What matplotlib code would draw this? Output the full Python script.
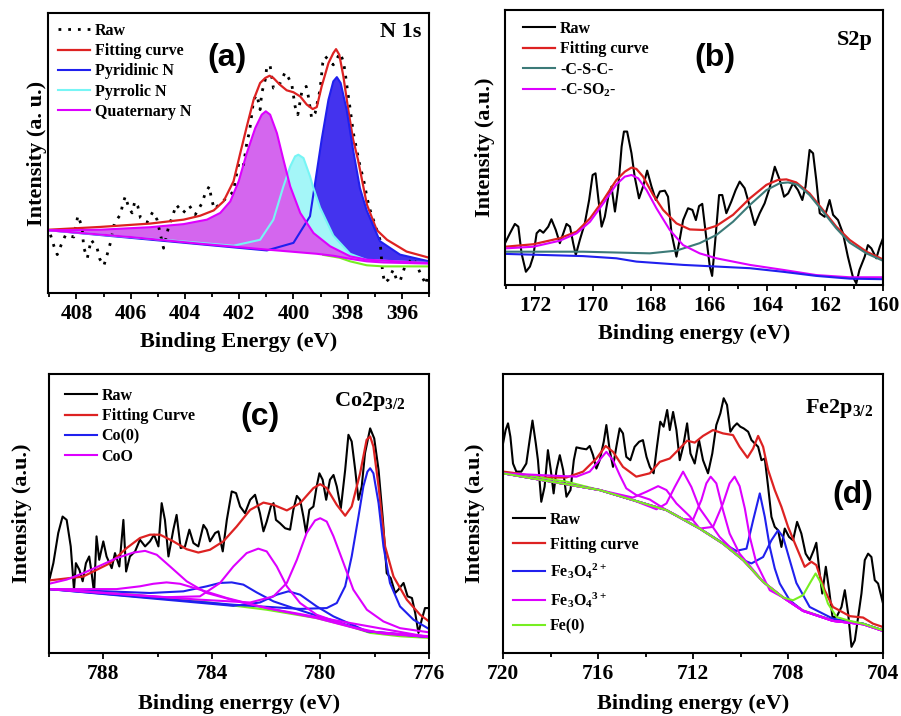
import matplotlib
matplotlib.use("Agg")
import matplotlib.pyplot as plt
from matplotlib.ticker import MultipleLocator

plt.rcParams['font.family'] = 'Liberation Serif'
plt.rcParams['font.weight'] = 'bold'
plt.rcParams['axes.labelweight'] = 'bold'
plt.rcParams['mathtext.fontset'] = 'custom'
plt.rcParams['mathtext.rm'] = 'Liberation Serif:bold'
plt.rcParams['mathtext.it'] = 'Liberation Serif:bold'
plt.rcParams['mathtext.bf'] = 'Liberation Serif:bold'

RED = '#DD2222'
BLUE = '#2020EE'
MAG = '#DD00FF'
GREEN = '#77EE22'
TEAL = '#3C7A78'
CYAN = '#77F5F5'

# ---------------- (a) N 1s ----------------
a_raw = [(408.96,20.8),(408.83,16.7),(408.71,13.7),(408.56,17.3),(408.4,20.8),(408.1,20),(407.95,27.6),
         (407.8,23.8),(407.73,16.1),(407.6,12.5),(407.46,19),(407.24,16),(407.14,12.1),(406.99,9.8),
         (406.87,13.7),(406.75,17.9),(406.6,25),(406.38,28),(406.29,31.9),(406.2,34.5),(406.07,30.4),
         (405.95,28.6),(405.85,32.7),(405.74,31),(405.64,26.8),(405.4,25.2),(405.19,28.9),(405.03,26.2),
         (404.79,16),(404.6,23.8),(404.44,28),(404.32,31.5),(404.07,28.6),(403.84,31.2),(403.62,28),
         (403.37,32.1),(403.25,35.7),(403.1,38.1),(403.03,33.9),(402.92,30),(402.2,36.3),(402.15,39.9),
         (402.0,47),(401.84,45.8),(401.72,53.6),(401.62,57.7),(401.53,64.3),(401.47,69),(401.35,70.8),
         (401.23,65.5),(401.17,71.4),(401.04,76.2),(400.98,81),(400.86,81.2),(400.74,73.2),(400.55,73.8),
         (400.31,78.8),(400.18,76.8),(400.06,74.4),(399.94,66.7),(399.84,63.7),(399.69,72),(399.53,73.8),
         (399.45,70.2),(399.33,62.5),(399.2,64.3),(399.02,72.6),(398.92,82.1),(398.83,84.5),(398.71,83.3),
         (398.53,81.5),(398.28,85.7),(398.16,82.7),(398.1,79.2),(398.01,72.6),(397.94,67.9),(397.79,57.1),
         (397.57,46.4),(397.48,42.9),(397.36,38.1),(397.3,34.5),(397.18,29.8),(396.93,22.6),(396.81,19),
         (396.71,7.1),(396.63,3.6),(396.5,4.8),(396.32,8.3),(396.2,4.8),(396.07,4.2),(395.89,9.5),
         (395.58,12.5),(395.27,6),(395.11,3),(395.05,7.1)]
a_fit = [(409.02,22.6),(407.12,23.6),(405.28,24.8),(404.05,26.2),(403.44,27.6),(402.94,29.5),(402.58,32.7),
         (402.21,39.9),(401.96,50),(401.72,59.5),(401.47,69),(401.23,75),(401.04,76.8),(400.88,77.6),
         (400.74,76.8),(400.5,74.4),(400.25,72.4),(400.0,71.7),(399.75,70.2),(399.51,67.3),(399.29,65.7),
         (399.14,66.4),(398.96,73.8),(398.71,82.1),(398.53,85.7),(398.43,87.1),(398.31,85.1),(398.16,77.4),
         (397.98,65.5),(397.8,54.8),(397.62,47.6),(397.29,31.5),(396.93,22.5),(396.55,19.0),(395.83,14.8),
         (395.0,12.6)]
a_bg = [(409.02,22.4),(405.89,19.9),(403.44,17.6),(400.98,15.5),(399.14,14.0),(398.53,13.3),(397.91,12.2),
        (397.3,11.3),(396.69,10.9),(395.0,10.5)]
a_green = [(398.9,13.6),(398.3,12.6),(397.91,11.3),(397.3,9.9),(396.69,9.5),(395.0,9.5)]
a_pyridinic = [(409.02,22.4),(400.98,15.2),(400.0,17.9),(399.39,27.4),(399.2,39.4),(398.96,54.8),(398.71,69),
               (398.53,75.6),(398.4,77.1),(398.26,75),(398.04,65.5),(397.79,50.5),(397.55,37.5),(397.3,29.5),
               (396.81,18.5),(396.07,13.7),(395.0,11.3)]
a_pyrrolic = [(409.02,22.4),(402.21,16.9),(401.23,19.0),(400.74,26.2),(400.37,38.1),(400.12,45.2),(399.94,48.8),
              (399.82,49.4),(399.63,48.2),(399.39,41.7),(399.28,38.0),(399.02,30.5),(398.53,20.5),(397.91,14.0),
              (397.3,11.8),(395.0,10.7)]
a_quaternary = [(409.02,22.4),(407.12,22.6),(405.28,23.5),(404.05,24.6),(403.19,26.2),(402.7,28.6),(402.33,32.7),
                (402.02,39.9),(401.72,50),(401.41,58.9),(401.17,63.7),(401.02,64.9),(400.86,63.7),(400.61,57.1),
                (400.37,47.6),(400.12,38.1),(399.75,28.6),(399.26,21.4),(398.65,16.7),(397.91,13.1),(397.3,11.9),
                (395.0,10.7)]

# ---------------- (b) S 2p ----------------
b_raw = [(173.03,15.2),(172.86,18.8),(172.69,22.2),(172.57,21.2),(172.46,11.5),(172.31,4.8),(172.17,6.7),
         (172.06,10.3),(171.94,18.8),(171.83,20),(171.71,19),(171.54,21.2),(171.43,23.9),(171.28,20),
         (171.14,15.2),(171.02,18.8),(170.91,22.2),(170.79,21.2),(170.68,15.2),(170.59,10.9),(170.45,16.4),
         (170.28,22.4),(170.13,30.9),(170.01,40),(169.91,40.6),(169.82,32.1),(169.7,21.2),(169.59,24.8),
         (169.47,32.1),(169.36,35.8),(169.24,26.7),(169.13,35.2),(169.01,50.3),(168.93,55.8),(168.82,55.8),
         (168.67,47.9),(168.56,39.4),(168.41,31.5),(168.27,35.8),(168.13,41.6),(167.98,35.8),(167.83,30.9),
         (167.69,34),(167.52,34.3),(167.41,32.1),(167.29,18.8),(167.12,10.3),(167.01,16.4),(166.89,23.6),
         (166.72,27.9),(166.57,27.3),(166.45,23.6),(166.34,28.7),(166.23,29.5),(166.11,18.8),(165.97,6.7),
         (165.89,3.3),(165.78,16.4),(165.65,32.7),(165.54,32.7),(165.4,26.1),(165.23,30.3),(165.08,34.5),
         (164.94,37.6),(164.77,35.2),(164.59,28.5),(164.42,21.8),(164.25,26.1),(164.08,29.7),(163.91,35.2),
         (163.73,43),(163.56,38.2),(163.41,32.1),(163.27,33.3),(163.1,37),(162.93,34.5),(162.78,30.9),
         (162.67,35.8),(162.53,49.1),(162.41,47.9),(162.3,38.2),(162.18,26.1),(162.01,24.8),(161.84,30.9),
         (161.72,25.5),(161.55,23.6),(161.38,18.8),(161.21,10.3),(161.04,3),(160.92,0.6),(160.81,5.5),
         (160.63,10.3),(160.52,14.5),(160.4,13.3),(160.23,9.7),(160.11,13.9),(160.0,17)]
b_fit = [(173.03,13.9),(172.06,14.8),(171.14,17),(170.56,19.4),(170.1,24.2),(169.64,30.9),(169.19,38.2),
         (168.9,41.2),(168.67,42.7),(168.5,42.2),(168.27,39.4),(167.92,32.7),(167.58,27.3),(167.12,22.4),
         (166.66,20.2),(166.2,20),(165.74,21.5),(165.17,25.5),(164.59,31.5),(164.02,36.4),(163.62,38.2),
         (163.33,38.4),(162.99,37.3),(162.53,33.3),(162.07,27.3),(161.61,21.2),(161.15,16.4),(160.57,12.1),
         (160.0,9.3)]
b_csc = [(173.03,12.1),(170.34,12.1),(168.04,11.5),(167.12,12.5),(166.32,15.2),(165.74,18.2),(165.17,23),
         (164.59,29.1),(164.02,34.5),(163.56,37),(163.27,37.3),(162.93,36.4),(162.53,32.7),(162.07,26.7),
         (161.61,20.6),(161.15,15.4),(160.57,11.5),(160.0,8.8)]
b_cso2 = [(173.03,13.3),(172.06,13.9),(171.14,16.1),(170.56,18.8),(170.1,23),(169.64,29.7),(169.19,36.6),
          (168.9,39.4),(168.67,40),(168.44,38.8),(168.15,34.5),(167.81,27.9),(167.35,20),(166.89,14.5),
          (166.32,11.5),(165.74,9.7),(164.59,7.3),(163.45,5.5),(162.3,3.6),(161.15,2.8),(160.0,2.8)]
b_bg = [(173.03,11.3),(170.34,10.5),(169.19,9.7),(168.5,8.5),(166.89,7.3),(164.59,6.1),(163.45,4.8),
        (162.3,3.3),(161.15,2.3),(160.0,2.1)]

# ---------------- (c) Co 2p3/2 ----------------
c_raw = [(790.0,25.7),(789.84,32.2),(789.66,43),(789.5,48.9),(789.35,47.7),(789.2,38.2),(789.08,22.7),
         (789.01,32.2),(788.88,29.8),(788.76,25.7),(788.64,32.2),(788.52,34.6),(788.43,28.6),(788.34,21.5),
         (788.25,41.8),(788.15,33.4),(788.0,40),(787.88,34.6),(787.69,30.4),(787.57,35.8),(787.41,31),
         (787.26,47.7),(787.16,29.2),(787.02,34.6),(786.83,36.4),(786.65,40.6),(786.46,38.2),(786.28,40),
         (786.13,42.4),(785.97,38.2),(785.85,53.7),(785.73,47.7),(785.6,34.6),(785.42,44.2),(785.3,49.5),
         (785.15,37.6),(784.99,38.2),(784.83,44.2),(784.68,39.4),(784.5,38.2),(784.31,45.9),(784.19,44.2),
         (784.07,40),(783.88,43),(783.76,43.6),(783.6,36.4),(783.45,47.7),(783.27,57.9),(783.11,57.3),
         (782.96,52.5),(782.78,50.1),(782.59,54.9),(782.41,56.7),(782.23,50.1),(782.1,43.6),(781.98,47.1),
         (781.83,52.5),(781.73,53.7),(781.64,47.7),(781.49,46.5),(781.3,44.7),(781.12,44.2),(781.0,51.3),
         (780.87,56.3),(780.75,54.9),(780.63,48.9),(780.53,43),(780.41,51.3),(780.26,52.5),(780.14,59.7),
         (780.04,64.4),(779.92,62.1),(779.79,54.9),(779.65,62.1),(779.52,63.8),(779.4,59.7),(779.25,51.9),
         (779.09,65.6),(778.97,78.2),(778.85,75.8),(778.72,65.6),(778.6,54.9),(778.48,59.7),(778.36,71.6),
         (778.17,80.5),(778.02,76.9),(777.86,65.6),(777.7,47.7),(777.56,28.6),(777.41,26.8),(777.25,21.5),
         (777.13,22.7),(776.94,25.1),(776.79,20.3),(776.63,19.7),(776.51,14.3),(776.39,7.2),(776.27,11.9),
         (776.15,16.1),(776.0,16.1)]
c_fit = [(790.0,26),(788.74,27.4),(787.75,32.2),(787.14,37.6),(786.65,41.2),(786.28,42.4),(785.91,42.4),
         (785.42,40),(784.93,37.2),(784.5,36),(784.07,37),(783.58,40),(783.09,45.3),(782.59,51.3),(782.1,53.9),
         (781.73,53.1),(781.24,51.1),(780.75,53.7),(780.26,59.1),(780.01,60.5),(779.77,59.1),(779.4,53.1),
         (779.09,49.2),(778.85,52.5),(778.54,64.4),(778.3,76.4),(778.17,77.6),(778.05,74),(777.86,59.7),
         (777.62,38.2),(777.31,27.4),(776.82,19.1),(776.33,13.7),(776.0,11.3)]
c_bg = [(790.0,22.9),(786.89,20.9),(784.44,18.5),(781.98,15.5),(780.14,12.5),(778.91,9.5),(778.17,7.2),
        (777.07,6.0),(776.0,5.4)]
c_co0 = [
    [(790.0,22.9),(783.21,17.3),(780.75,15.8),(779.77,16.1),(779.4,17.9),(779.09,23.9),(778.85,34.6),
     (778.6,48.9),(778.42,59.7),(778.27,65.0),(778.17,66.2),(778.05,64.4),(777.86,53.7),(777.68,38.2),
     (777.44,25.1),(777.07,16.7),(776.57,11.9),(776.0,8.6)],
    [(790.0,22.9),(783.21,16.9),(782.23,18.1),(781.61,20.9),(781.18,22.1),(780.75,20.9),(780.14,16.7),
     (779.52,13.1),(778.29,7.8),(776.0,5.7)],
    [(790.0,22.9),(786.28,21.5),(785.05,22.1),(784.19,23.9),(783.7,25.1),(783.27,25.3),(782.84,24.5),
     (782.35,21.7),(781.73,18.5),(781.0,16.1),(780.14,13.4),(778.29,7.8),(776.0,5.7)],
]
c_coo = [
    [(790.0,22.9),(784.44,19.1),(782.59,18.1),(781.73,20.3),(781.24,25.1),(780.87,33.4),(780.51,43.0),
     (780.2,47.5),(780.01,48.3),(779.77,47.1),(779.52,41.8),(779.15,32.2),(778.79,22.7),(778.29,15.5),
     (777.68,11.3),(777.07,8.9),(776.0,7.4)],
    [(790.0,22.9),(785.67,20.0),(784.44,20.3),(783.7,25.1),(783.21,31.0),(782.72,35.8),(782.29,37.4),
     (781.98,36.4),(781.61,31.0),(781.24,23.9),(780.75,17.9),(780.14,13.7),(778.91,9.5),(777.68,6.9),
     (776.0,5.7)],
    [(790.0,24.8),(789.35,26.3),(788.74,28.6),(788.12,31.3),(787.51,34.0),(786.89,36.0),(786.46,36.6),
     (786.03,35.2),(785.54,31.0),(784.93,25.7),(784.19,21.5),(783.21,18.9),(781.98,16.1),(780.14,12.5),
     (778.29,7.8),(776.0,6.0)],
    [(790.0,22.9),(787.51,22.9),(786.65,23.9),(786.16,24.8),(785.67,25.3),(785.17,24.8),(784.44,22.7),
     (783.45,19.7),(781.98,16.1),(776.0,5.7)],
]

# ---------------- (d) Fe 2p3/2 ----------------
d_raw = [(720.0,75.1),(719.89,79.9),(719.79,82.3),(719.69,77.5),(719.58,67.9),(719.44,65),(719.23,65),
         (719.02,67.9),(718.88,76.3),(718.76,83.3),(718.62,75.1),(718.53,69.1),(718.39,54.2),(718.25,59.6),
         (718.11,72.7),(717.99,65.6),(717.87,57.2),(717.75,65.6),(717.61,70.9),(717.47,65.6),(717.33,56),
         (717.16,58.4),(717.02,69.1),(716.91,73.7),(716.7,73.3),(716.49,73),(716.35,74.2),(716.21,70.9),
         (716.07,66.1),(715.93,69.1),(715.76,75.7),(715.65,81.7),(715.51,72.7),(715.37,66.7),(715.23,73.9),
         (715.09,80.5),(714.95,78.7),(714.81,70.3),(714.64,69.1),(714.46,73.9),(714.27,75.7),(714.11,76.3),
         (713.96,70.3),(713.82,66.7),(713.66,64.4),(713.52,73.9),(713.38,82.9),(713.24,81.1),(713.09,87.1),
         (712.98,79.9),(712.84,86.4),(712.7,79.9),(712.56,69.1),(712.42,73.9),(712.25,82.3),(712.11,71.5),
         (711.93,67.9),(711.75,76.3),(711.58,69.1),(711.37,64.4),(711.19,71.5),(711.02,81.7),(710.85,85.9),
         (710.71,91.3),(710.57,88.9),(710.43,79.3),(710.29,81.1),(710.15,82.3),(710.01,81.1),(709.87,80.5),
         (709.68,79.3),(709.54,76.3),(709.4,75.1),(709.26,73.9),(709.12,69.1),(708.98,69.7),(708.84,59.6),
         (708.7,48.8),(708.56,45.2),(708.42,44),(708.28,38),(708.14,44.6),(707.96,41.6),(707.79,40.4),
         (707.62,47),(707.44,42.8),(707.26,35.6),(707.09,33.3),(706.92,36.8),(706.81,39.5),(706.67,28.5),
         (706.56,21.3),(706.41,30.9),(706.27,22.5),(706.13,12.9),(705.96,12.9),(705.75,16.5),(705.61,22.5),
         (705.47,14.1),(705.33,2.2),(705.19,4.5),(705.05,12.9),(704.91,21.3),(704.77,33.3),(704.63,35.6),
         (704.49,34.4),(704.35,26.1),(704.21,24.9),(704.0,17.7)]
d_fit = [(720.0,65),(719.44,64.4),(718.46,62.9),(717.33,62.9),(716.63,65),(716.07,69.7),(715.68,74.2),
         (715.37,72.1),(714.95,66.7),(714.39,63.2),(713.82,64.4),(713.4,68.5),(712.98,69.7),(712.56,73.3),
         (712.25,76.1),(711.93,75.4),(711.58,77.8),(711.16,79.9),(710.74,78.7),(710.32,78.1),(710.04,73.9),
         (709.71,70),(709.47,73.3),(709.26,77.8),(709.05,73.9),(708.84,65.6),(708.56,58.4),(708.28,52.4),
         (708.0,45.2),(707.65,38),(707.3,30.9),(707.02,32.7),(706.81,31.5),(706.46,22.5),(706.11,16.5),
         (705.4,13.2),(704.84,12.7),(704.42,10.5),(704.0,9.3)]
d_bg = [(720.0,64.4),(718.74,63.2),(717.33,61.4),(715.93,58.4),(714.53,54.8),(713.12,51.2),(711.72,44.6),
        (710.74,39.2),(709.89,33.3),(709.05,25.5),(708.21,19.9),(707.37,15.3),(706.11,11.7),(704.84,10.5),
        (704.0,8.1)]
d_fe2 = [
    [(720.0,64.4),(715.93,58.4),(714.53,54.8),(713.12,51.2),(711.72,44.6),(710.74,39.4),(710.18,36.6),
     (709.75,37.4),(709.47,47.6),(709.19,57.2),(708.98,48.8),(708.77,38.0),(708.56,30.3),(708.35,24.9),
     (707.93,18.9),(707.37,15.1),(706.11,11.7),(704.84,10.5),(704.0,8.1)],
    [(720.0,64.4),(715.93,58.4),(714.53,54.8),(713.12,51.2),(711.72,44.6),(710.74,39.2),(709.89,33.3),
     (709.54,32.1),(709.05,34.4),(708.7,40.4),(708.42,44.0),(708.21,41.6),(707.93,33.3),(707.65,25.1),
     (707.09,16.5),(706.11,12.3),(704.84,10.5),(704.0,8.1)],
]
d_fe3 = [
    [(720.0,64.4),(718.04,63.6),(716.91,63.2),(716.35,65.0),(716.0,68.5),(715.65,72.1),(715.37,69.1),
     (715.09,63.8),(714.81,59.0),(714.39,56.6),(713.82,55.0),(713.12,51.2),(711.72,44.6),(710.74,39.2),
     (709.89,33.3),(709.05,25.5),(708.21,19.9),(707.37,15.1),(706.11,11.5),(704.84,10.3),(704.0,7.9)],
    [(720.0,64.4),(715.93,58.4),(714.53,55.7),(713.96,57.8),(713.47,59.8),(713.12,58.4),(712.7,53.6),
     (712.14,49.0),(711.72,44.6),(710.74,39.2),(709.89,33.3),(709.05,25.5),(708.21,19.9),(707.37,15.1),
     (706.11,11.5),(704.84,10.3),(704.0,7.9)],
    [(720.0,64.4),(715.93,58.4),(714.53,54.8),(713.54,51.5),(713.12,53.6),(712.77,59.5),(712.42,65.0),
     (712.07,59.5),(711.72,51.8),(711.37,47.6),(710.88,41.6),(709.89,33.3),(709.05,25.5),(708.21,19.9),
     (707.37,15.1),(706.11,11.5),(704.84,10.3),(704.0,7.9)],
    [(720.0,64.4),(715.93,58.4),(714.53,54.8),(713.12,51.2),(712.42,48.0),(712.0,47.8),(711.65,54.8),
     (711.44,60.8),(711.26,63.2),(711.02,60.8),(710.74,51.2),(710.46,42.8),(710.04,35.6),(709.05,25.5),
     (708.21,19.9),(707.37,15.1),(706.11,11.5),(704.84,10.3),(704.0,7.9)],
    [(720.0,64.4),(715.93,58.4),(714.53,54.8),(713.12,51.2),(711.72,44.6),(711.16,45.2),(710.74,53.6),
     (710.46,60.8),(710.25,63.2),(710.04,59.8),(709.82,51.8),(709.61,41.6),(709.33,32.1),(708.77,22.5),
     (708.21,19.9),(707.37,15.1),(706.11,11.5),(704.84,10.3),(704.0,7.9)],
]
d_fe0 = [(720.0,64.4),(715.93,58.4),(714.53,54.8),(713.12,51.2),(711.72,44.6),(710.74,39.2),(709.89,33.3),
         (709.05,25.5),(708.21,19.9),(707.79,18.9),(707.37,20.7),(707.09,24.9),(706.84,28.5),(706.6,24.9),
         (706.32,17.7),(705.96,12.9),(705.4,11.5),(704.84,10.5),(704.0,8.1)]


def xy(pts):
    return [p[0] for p in pts], [p[1] for p in pts]


def style(ax, xlim, major, minor, xlabel, ylabel, xlpad, ylpad):
    ax.set_xlim(*xlim)
    ax.set_ylim(0, 100)
    ax.xaxis.set_major_locator(MultipleLocator(major))
    ax.xaxis.set_minor_locator(MultipleLocator(minor))
    ax.set_yticks([])
    ax.tick_params(axis='x', which='major', direction='out', length=4, width=1.3, labelsize=15.5, pad=4)
    ax.tick_params(axis='x', which='minor', direction='out', length=3, width=1.3)
    for s in ax.spines.values():
        s.set_linewidth(1.5)
    ax.set_xlabel(xlabel, fontsize=16, labelpad=xlpad)
    ax.set_ylabel(ylabel, fontsize=16, labelpad=ylpad)


def legend(ax, x, y, spacing=0.27):
    ax.legend(loc='upper left', bbox_to_anchor=(x, y), frameon=False, fontsize=11.5,
              borderpad=0, borderaxespad=0, labelspacing=spacing, handlelength=2.0, handletextpad=0.3)


fig = plt.figure(figsize=(9.01, 7.16), dpi=100)
axa = fig.add_axes([0.0533, 0.5908, 0.4229, 0.391])
axb = fig.add_axes([0.5605, 0.602, 0.4195, 0.384])
axc = fig.add_axes([0.0544, 0.088, 0.4218, 0.3897])
axd = fig.add_axes([0.5583, 0.088, 0.4218, 0.3897])

# panel (a)
x, y = xy(a_raw)
axa.plot(x, y, color='black', lw=2, ls=(0, (1, 2.5)), label='Raw')
x, y = xy(a_fit)
axa.plot(x, y, color=RED, lw=1.6, label='Fitting curve')
x, y = xy(a_green)
axa.plot(x, y, color=GREEN, lw=1.5)
bx, by = xy(a_bg)
for pts, fc, ec, lab in [(a_pyridinic, '#4433EE', BLUE, 'Pyridinic N'),
                         (a_pyrrolic, '#A4F6F8', CYAN, 'Pyrrolic N'),
                         (a_quaternary, '#D466EE', MAG, 'Quaternary N')]:
    px, py = xy(pts)
    axa.fill(px + bx[::-1], py + by[::-1], color=fc, lw=0)
    axa.plot(px, py, color=ec, lw=1.5, label=lab)
axa.plot(bx, by, color=MAG, lw=1.5)
style(axa, (409.05, 395.0), 2, 1, 'Binding Energy (eV)', 'Intensity (a. u.)', 6, 1)
legend(axa, 0.026, 0.965)
axa.text(0.47, 0.84, '(a)', transform=axa.transAxes, ha='center', va='center',
         fontsize=23, fontweight='bold', family='Liberation Sans')
axa.text(0.979, 0.932, 'N 1s', transform=axa.transAxes, ha='right', va='center', fontsize=16)

# panel (b)
x, y = xy(b_raw)
axb.plot(x, y, color='black', lw=1.5, label='Raw')
x, y = xy(b_fit)
axb.plot(x, y, color=RED, lw=1.6, label='Fitting curve')
x, y = xy(b_csc)
axb.plot(x, y, color=TEAL, lw=1.5, label='-C-S-C-')
x, y = xy(b_cso2)
axb.plot(x, y, color=MAG, lw=1.5, label='-C-SO$_2$-')
x, y = xy(b_bg)
axb.plot(x, y, color=BLUE, lw=1.5)
style(axb, (173.03, 160.0), 2, 1, 'Binding energy (eV)', 'Intensity (a.u.)', 6, 7)
legend(axb, 0.048, 0.96)
axb.text(0.556, 0.825, '(b)', transform=axb.transAxes, ha='center', va='center',
         fontsize=23, fontweight='bold', family='Liberation Sans')
axb.text(0.974, 0.891, 'S2p', transform=axb.transAxes, ha='right', va='center', fontsize=16)

# panel (c)
x, y = xy(c_raw)
axc.plot(x, y, color='black', lw=1.5, label='Raw')
x, y = xy(c_fit)
axc.plot(x, y, color=RED, lw=1.6, label='Fitting Curve')
x, y = xy(c_bg)
axc.plot(x, y, color=GREEN, lw=1.5)
for i, pts in enumerate(c_co0):
    x, y = xy(pts)
    axc.plot(x, y, color=BLUE, lw=1.5, label='Co(0)' if i == 0 else None)
for i, pts in enumerate(c_coo):
    x, y = xy(pts)
    axc.plot(x, y, color=MAG, lw=1.5, label='CoO' if i == 0 else None)
style(axc, (790.0, 776.0), 4, 2, 'Binding enerrgy (eV)', 'Intensity (a.u.)', 7, 12)
legend(axc, 0.042, 0.95)
axc.text(0.555, 0.846, '(c)', transform=axc.transAxes, ha='center', va='center',
         fontsize=23, fontweight='bold', family='Liberation Sans')
axc.text(0.94, 0.9, 'Co2p$_{3/2}$', transform=axc.transAxes, ha='right', va='center', fontsize=16)

# panel (d)
x, y = xy(d_raw)
axd.plot(x, y, color='black', lw=1.5, label='Raw')
x, y = xy(d_fit)
axd.plot(x, y, color=RED, lw=1.6, label='Fitting curve')
x, y = xy(d_bg)
axd.plot(x, y, color=GREEN, lw=1.5)
for i, pts in enumerate(d_fe2):
    x, y = xy(pts)
    axd.plot(x, y, color=BLUE, lw=1.5, label='Fe$_3$O$_4$$^{2+}$' if i == 0 else None)
for i, pts in enumerate(d_fe3):
    x, y = xy(pts)
    axd.plot(x, y, color=MAG, lw=1.5, label='Fe$_3$O$_4$$^{3+}$' if i == 0 else None)
x, y = xy(d_fe0)
axd.plot(x, y, color=GREEN, lw=1.5, label='Fe(0)')
style(axd, (720.0, 704.0), 4, 2, 'Binding energy (eV)', 'Intensity (a.u.)', 7, 13)
legend(axd, 0.026, 0.505, spacing=0.55)
axd.text(0.921, 0.566, '(d)', transform=axd.transAxes, ha='center', va='center',
         fontsize=23, fontweight='bold', family='Liberation Sans')
axd.text(0.974, 0.878, 'Fe2p$_{3/2}$', transform=axd.transAxes, ha='right', va='center', fontsize=16)

fig.savefig('out.png', dpi=100)
